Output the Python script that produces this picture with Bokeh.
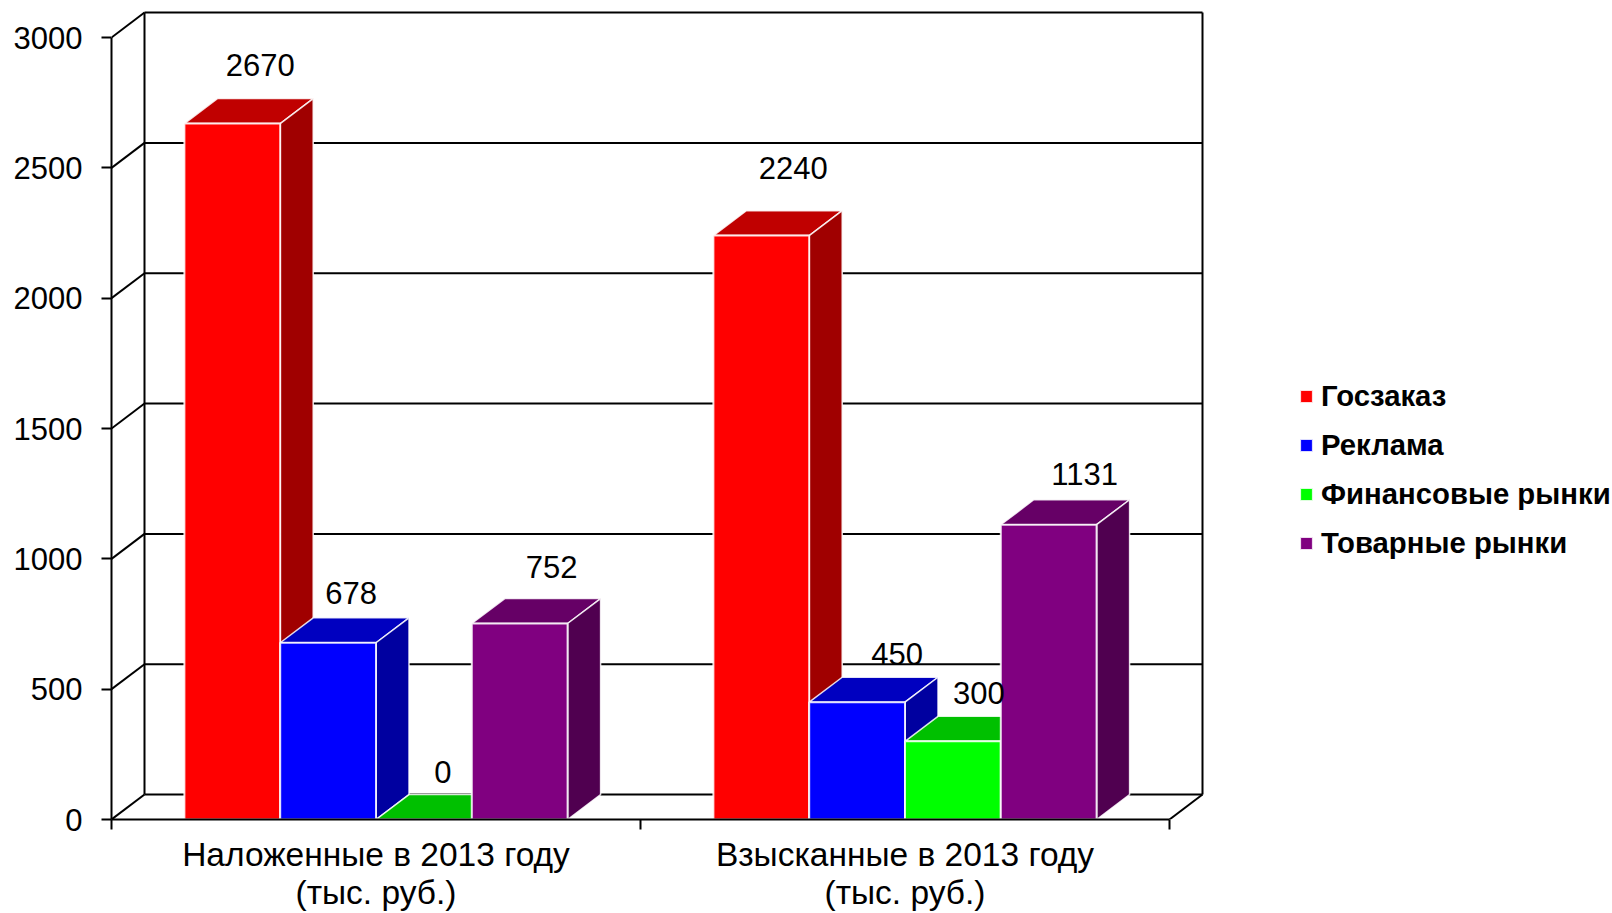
from bokeh.plotting import figure
from bokeh.models import ColumnDataSource, Legend, LegendItem, FixedTicker
from bokeh.core.properties import value
from bokeh.embed import file_html
from bokeh.resources import INLINE

# ---- data ----
categories = ["Наложенные в 2013 году\n(тыс. руб.)", "Взысканные в 2013 году\n(тыс. руб.)"]
series_names = ["Госзаказ", "Реклама", "Финансовые рынки", "Товарные рынки"]
goszakaz = [2670, 2240]
reklama = [678, 450]
finansy = [0, 300]
tovary = [752, 1131]
y_ticks = [0, 500, 1000, 1500, 2000, 2500, 3000]

# ---- styling ----
front_colors = ["#FF0000", "#0000FF", "#00FF00", "#800080"]
top_colors = ["#C00000", "#0000C0", "#00C000", "#660066"]
side_colors = ["#A00000", "#0000A0", "#00A000", "#500050"]
# hand-placed label offsets in px, per series then category (from bar top centre)
label_dx = [[28, 32], [23, 40], [19, 26], [32, 36]]
label_dy = [[-59, -68], [-50, -48], [-48, -48], [-56, -51]]

FONT = "Liberation Sans"
W, H = 1612, 913
LEFT, BOTTOM = 111, 92
PX_X = 529.0          # px per category
PX_Y = 0.2613         # px per unit value
DX = 33 / PX_X        # depth in x units
DY = 25 / PX_Y        # depth in y units
BAR = 95.8 / PX_X
PAD = (1 - 4 * BAR) / 2

p = figure(width=W, height=H, output_backend="svg", toolbar_location=None,
           x_range=(0, (W - LEFT) / PX_X), y_range=(0, (H - BOTTOM) / PX_Y),
           min_border_left=LEFT, min_border_bottom=BOTTOM, min_border_top=0, min_border_right=0,
           outline_line_color=None, background_fill_color=None, border_fill_color="white")
p.grid.visible = False

# walls
n_cat = len(categories)
gx0, gy0, gx1, gy1 = [], [], [], []
for t in y_ticks:
    gx0 += [0, DX]; gy0 += [t, t + DY]; gx1 += [DX, n_cat + DX]; gy1 += [t + DY, t + DY]
top = y_ticks[-1]
gx0 += [DX, n_cat + DX, n_cat]; gy0 += [DY, DY, 0]; gx1 += [DX, n_cat + DX, n_cat + DX]; gy1 += [top + DY, top + DY, DY]
p.segment(gx0, gy0, gx1, gy1, line_color="black", line_width=2)

# bars
all_series = [goszakaz, reklama, finansy, tovary]
lab_x, lab_y, lab_t, lab_dx, lab_dy = [], [], [], [], []
legend_items = []
for c in range(n_cat):
    for s, vals in enumerate(all_series):
        v = vals[c]
        x0 = c + PAD + s * BAR
        x1 = x0 + BAR
        p.patch([x0, x1, x1 + DX, x0 + DX], [v, v, v + DY, v + DY], fill_color=top_colors[s],
                line_color="white", line_width=1.5, line_alpha=0.85)
        p.patch([x1, x1 + DX, x1 + DX, x1], [0, DY, v + DY, v], fill_color=side_colors[s],
                line_color="white", line_width=1.5, line_alpha=0.85)
        r = p.patch([x0, x1, x1, x0], [0, 0, v, v], fill_color=front_colors[s],
                    line_color="white", line_width=2, line_alpha=0.85)
        if c == 0:
            legend_items.append(LegendItem(label=series_names[s], renderers=[r]))
        lab_x.append((x0 + x1) / 2); lab_y.append(v); lab_t.append(str(v))
        lab_dx.append(label_dx[s][c]); lab_dy.append(label_dy[s][c])

src = ColumnDataSource(dict(x=lab_x, y=lab_y, t=lab_t, dx=lab_dx, dy=lab_dy))
p.text("x", "y", text="t", source=src, x_offset="dx", y_offset="dy", text_align="center",
       text_baseline="middle", text_font=value(FONT), text_font_size="31px", text_color="black")

# axes
ya = p.yaxis[0]
ya.ticker = FixedTicker(ticks=y_ticks, minor_ticks=[])
ya.bounds = (0, top)
ya.major_tick_in = 0; ya.major_tick_out = 10
ya.major_label_standoff = 19
ya.major_label_text_font = FONT; ya.major_label_text_font_size = "31px"
ya.major_label_text_color = "black"
ya.axis_line_width = 2; ya.major_tick_line_width = 2

xa = p.xaxis[0]
xa.ticker = FixedTicker(ticks=[c + 0.5 for c in range(n_cat)], minor_ticks=list(range(n_cat + 1)))
xa.major_label_overrides = {c + 0.5: categories[c] for c in range(n_cat)}
xa.bounds = (0, n_cat)
xa.major_tick_in = 0; xa.major_tick_out = 0
xa.minor_tick_in = 0; xa.minor_tick_out = 10
xa.minor_tick_line_width = 2; xa.axis_line_width = 2
xa.major_label_standoff = 6
xa.major_label_text_font = FONT; xa.major_label_text_font_size = "33.5px"
xa.major_label_text_line_height = 1.04
xa.major_label_text_color = "black"

# legend
lg = Legend(items=legend_items, location=(1187, 259), orientation="vertical",
            glyph_width=16, glyph_height=16, label_standoff=7, spacing=15, padding=0, margin=0,
            border_line_color=None, background_fill_alpha=0,
            label_text_font=FONT, label_text_font_size="29.3px", label_text_font_style="bold",
            label_text_color="black")
p.add_layout(lg)

open("out.html", "w").write(file_html(p, INLINE))
